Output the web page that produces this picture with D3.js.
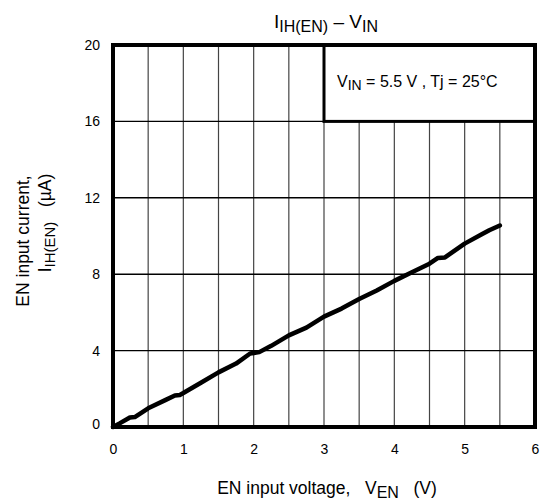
<!DOCTYPE html>
<html>
<head>
<meta charset="utf-8">
<script src="https://cdn.jsdelivr.net/npm/d3@7"></script>
<style>
  html, body { margin: 0; padding: 0; background: #fff; }
  svg { display: block; font-family: "Liberation Sans", Arial, sans-serif; }
</style>
</head>
<body>
<svg id="chart" width="546" height="503"></svg>
<script>
// EN input voltage (V) and measured EN input current (µA)
const voltage = [0, 0.1, 0.24, 0.31, 0.5, 0.75, 0.88, 0.95, 1.0, 1.25, 1.5, 1.75, 1.95, 2.08, 2.25, 2.5, 2.75, 3.0, 3.25, 3.5, 3.75, 4.0, 4.25, 4.5, 4.62, 4.72, 5.0, 5.25, 5.35, 5.5];
const current = [0, 0.2, 0.5, 0.52, 0.98, 1.42, 1.65, 1.68, 1.78, 2.32, 2.86, 3.32, 3.85, 3.92, 4.25, 4.8, 5.2, 5.78, 6.2, 6.7, 7.15, 7.65, 8.1, 8.55, 8.85, 8.88, 9.6, 10.1, 10.3, 10.55];

const xTicks = [0, 1, 2, 3, 4, 5, 6];
const yTicks = [0, 4, 8, 12, 16, 20];
const xGrid = d3.range(0.5, 6, 0.5);
const yGrid = [4, 8, 12, 16];

const svg = d3.select("#chart");
const x = d3.scaleLinear().domain([0, 6]).range([113, 535]);
const y = d3.scaleLinear().domain([0, 20]).range([427, 45]);

// grid
svg.append("g").selectAll("line").data(xGrid).join("line")
  .attr("x1", d => x(d)).attr("x2", d => x(d))
  .attr("y1", y(0)).attr("y2", y(20))
  .attr("stroke", "#444").attr("stroke-width", 1.2);
svg.append("g").selectAll("line").data(yGrid).join("line")
  .attr("x1", x(0)).attr("x2", x(6))
  .attr("y1", d => y(d)).attr("y2", d => y(d))
  .attr("stroke", "#000").attr("stroke-width", 1.4);

// condition box in the upper right
svg.append("rect")
  .attr("x", x(3)).attr("y", y(20))
  .attr("width", x(6) - x(3)).attr("height", y(16) - y(20))
  .attr("fill", "#fff").attr("stroke", "#000").attr("stroke-width", 3);
const cond = svg.append("text").attr("x", x(3) + 13).attr("y", 87)
  .attr("font-size", 16).attr("fill", "#000");
cond.append("tspan").text("V");
cond.append("tspan").attr("font-size", 14).attr("dy", 3).text("IN");
cond.append("tspan").attr("dy", -3).text(" = 5.5 V , Tj = 25°C");

// frame
svg.append("rect")
  .attr("x", x(0)).attr("y", y(20))
  .attr("width", x(6) - x(0)).attr("height", y(0) - y(20))
  .attr("fill", "none").attr("stroke", "#000").attr("stroke-width", 4);

// tick labels via d3 axes (no lines)
const xAxis = svg.append("g").attr("transform", `translate(0,${y(0) + 17})`)
  .call(d3.axisBottom(x).tickValues(xTicks).tickFormat(d3.format("d")).tickSize(0).tickPadding(0));
xAxis.select(".domain").remove();
xAxis.selectAll("text").attr("font-size", 14).attr("font-family", "Liberation Sans, Arial, sans-serif").attr("fill", "#000");

const yAxis = svg.append("g").attr("transform", `translate(${x(0) - 13},0)`)
  .call(d3.axisLeft(y).tickValues(yTicks).tickFormat(d3.format("d")).tickSize(0).tickPadding(0));
yAxis.select(".domain").remove();
yAxis.selectAll("text").attr("font-size", 14).attr("font-family", "Liberation Sans, Arial, sans-serif").attr("fill", "#000")
  .attr("dy", d => d === 0 ? "0.1em" : "0.32em");

// data curve
const pts = voltage.map((v, i) => [v, current[i]]);
svg.append("path").datum(pts)
  .attr("d", d3.line().x(d => x(d[0])).y(d => y(d[1])))
  .attr("fill", "none").attr("stroke", "#000").attr("stroke-width", 4.5)
  .attr("stroke-linejoin", "round").attr("stroke-linecap", "round");

// title
const title = svg.append("text").attr("x", 326).attr("y", 28)
  .attr("text-anchor", "middle").attr("font-size", 19).attr("fill", "#000");
title.append("tspan").text("I");
title.append("tspan").attr("font-size", 16).attr("dy", 4).text("IH(EN)");
title.append("tspan").attr("dy", -4).text(" – V");
title.append("tspan").attr("font-size", 16).attr("dy", 4).text("IN");

// x axis title
const xt = svg.append("text").attr("x", 327).attr("y", 494)
  .attr("text-anchor", "middle").attr("font-size", 17.5).attr("fill", "#000")
  .attr("xml:space", "preserve");
xt.append("tspan").text("EN input voltage,   V");
xt.append("tspan").attr("font-size", 16).attr("dy", 4).text("EN");
xt.append("tspan").attr("dy", -4).text("   (V)");

// y axis title (two lines)
svg.append("text").attr("transform", "translate(29,241) rotate(-90)")
  .attr("text-anchor", "middle").attr("font-size", 17.5).attr("fill", "#000")
  .text("EN input current,");
const yt2 = svg.append("text").attr("transform", "translate(51,223) rotate(-90)")
  .attr("text-anchor", "middle").attr("font-size", 17.5).attr("fill", "#000")
  .attr("xml:space", "preserve");
yt2.append("tspan").text("I");
yt2.append("tspan").attr("font-size", 15).attr("dy", 4).text("IH(EN)");
yt2.append("tspan").attr("dy", -4).text("   (µA)");
</script>
</body>
</html>
